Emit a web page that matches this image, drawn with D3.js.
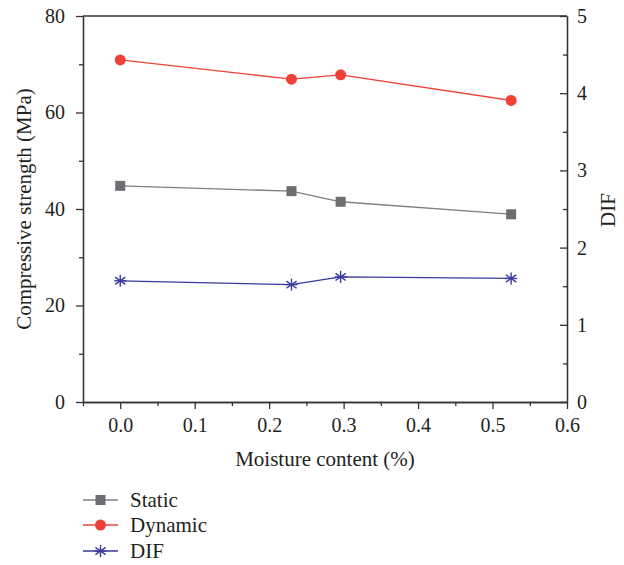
<!DOCTYPE html>
<html><head><meta charset="utf-8">
<script src="https://cdn.jsdelivr.net/npm/d3@7"></script>
<style>body{margin:0;background:#fff}svg{display:block}</style>
</head><body>
<svg id="c" width="624" height="565"></svg>
<script>
const moisture = [0, 0.23, 0.296, 0.525];
const staticStrength = [44.8, 43.7, 41.5, 38.9];
const dynamicStrength = [70.9, 66.9, 67.8, 62.5];
const difValues = [1.57, 1.52, 1.62, 1.60];
const xTicks = [0.0, 0.1, 0.2, 0.3, 0.4, 0.5, 0.6];
const yLeftTicks = [0, 20, 40, 60, 80];
const yRightTicks = [0, 1, 2, 3, 4, 5];
const seriesNames = ["Static", "Dynamic", "DIF"];
const colors = {Static: "#6d6e71", Dynamic: "#ef4136", DIF: "#3a3a9c"};
const lineColors = {Static: "#7f7f7f", Dynamic: "#ef4136", DIF: "#3a3a9c"};

const svg = d3.select("#c");
const L = 83, R = 567, T = 16, B = 402;
const x = d3.scaleLinear().domain([-0.05, 0.6]).range([L, R]);
const yL = d3.scaleLinear().domain([0, 80]).range([B, T]);
const yR = d3.scaleLinear().domain([0, 5]).range([B, T]);
const font = "'Liberation Serif', 'Times New Roman', serif";
const txt = "#231f20";

// frame top
svg.append("line").attr("x1", L).attr("x2", R).attr("y1", T).attr("y2", T).attr("stroke", "#333").attr("stroke-width", 1.3);

function styleAxis(g) {
  g.selectAll("path, line").attr("stroke", "#333").attr("stroke-width", 1.3);
  g.selectAll("text").attr("font-family", font).attr("font-size", 20).attr("fill", txt);
}
// minor ticks
const gx = svg.append("g").attr("transform", `translate(0,${B})`)
  .call(d3.axisBottom(x).tickValues([-0.05, 0.05, 0.15, 0.25, 0.35, 0.45, 0.55]).tickSize(4).tickFormat("").tickSizeOuter(0));
styleAxis(gx);
const gxm = svg.append("g").attr("transform", `translate(0,${B})`)
  .call(d3.axisBottom(x).tickValues(xTicks).tickSize(7).tickPadding(9).tickFormat(d3.format(".1f")).tickSizeOuter(0));
styleAxis(gxm);

const gl = svg.append("g").attr("transform", `translate(${L},0)`)
  .call(d3.axisLeft(yL).tickValues([10, 30, 50, 70]).tickSize(4).tickFormat("").tickSizeOuter(0));
styleAxis(gl);
const glm = svg.append("g").attr("transform", `translate(${L},0)`)
  .call(d3.axisLeft(yL).tickValues(yLeftTicks).tickSize(7).tickPadding(11).tickSizeOuter(0));
styleAxis(glm);

const gr = svg.append("g").attr("transform", `translate(${R},0)`)
  .call(d3.axisRight(yR).tickValues([0.5, 1.5, 2.5, 3.5, 4.5]).tickSize(-4).tickFormat("").tickSizeOuter(0));
styleAxis(gr);
const grm = svg.append("g").attr("transform", `translate(${R},0)`)
  .call(d3.axisRight(yR).tickValues(yRightTicks).tickSize(-7).tickFormat(d3.format("d")).tickSizeOuter(0));
styleAxis(grm);
grm.selectAll("text").attr("x", 10);

// axis titles
svg.append("text").attr("x", 325).attr("y", 466).attr("text-anchor", "middle")
  .attr("font-family", font).attr("font-size", 21).attr("fill", txt).text("Moisture content (%)");
svg.append("text").attr("transform", `translate(31,209) rotate(-90)`).attr("text-anchor", "middle")
  .attr("font-family", font).attr("font-size", 21).attr("fill", txt).text("Compressive strength (MPa)");
svg.append("text").attr("transform", `translate(615,210) rotate(-90)`).attr("text-anchor", "middle")
  .attr("font-family", font).attr("font-size", 21).attr("fill", txt).text("DIF");

function marker(g, name, cx, cy) {
  const c = colors[name];
  if (name === "Static") {
    g.append("rect").attr("x", cx - 5).attr("y", cy - 5).attr("width", 10).attr("height", 10).attr("fill", c);
  } else if (name === "Dynamic") {
    g.append("circle").attr("cx", cx).attr("cy", cy).attr("r", 5.5).attr("fill", c);
  } else {
    const s = 6;
    const p = [[0, -s, 0, s], [-s*0.85, -s*0.6, s*0.85, s*0.6], [-s*0.85, s*0.6, s*0.85, -s*0.6], [-s, 0, s, 0]];
    p.forEach(q => g.append("line").attr("x1", cx + q[0]).attr("y1", cy + q[1]).attr("x2", cx + q[2]).attr("y2", cy + q[3])
      .attr("stroke", c).attr("stroke-width", 1.4));
  }
}

const series = [
  {name: "Static", vals: staticStrength, y: yL},
  {name: "Dynamic", vals: dynamicStrength, y: yL},
  {name: "DIF", vals: difValues, y: yR}
];
series.forEach(s => {
  const pts = moisture.map((m, i) => [x(m), s.y(s.vals[i])]);
  svg.append("path").attr("d", d3.line()(pts)).attr("fill", "none").attr("stroke", lineColors[s.name]).attr("stroke-width", 1.3);
  const g = svg.append("g");
  pts.forEach(p => marker(g, s.name, p[0], p[1]));
});

// legend
const legY = [500, 525, 551];
seriesNames.forEach((n, i) => {
  const y = legY[i];
  svg.append("line").attr("x1", 83).attr("x2", 118).attr("y1", y).attr("y2", y).attr("stroke", lineColors[n]).attr("stroke-width", 1.3);
  marker(svg.append("g"), n, 100.5, y);
  svg.append("text").attr("x", 130).attr("y", y + 7).attr("font-family", font).attr("font-size", 21).attr("fill", txt).text(n);
});
</script>
</body></html>
